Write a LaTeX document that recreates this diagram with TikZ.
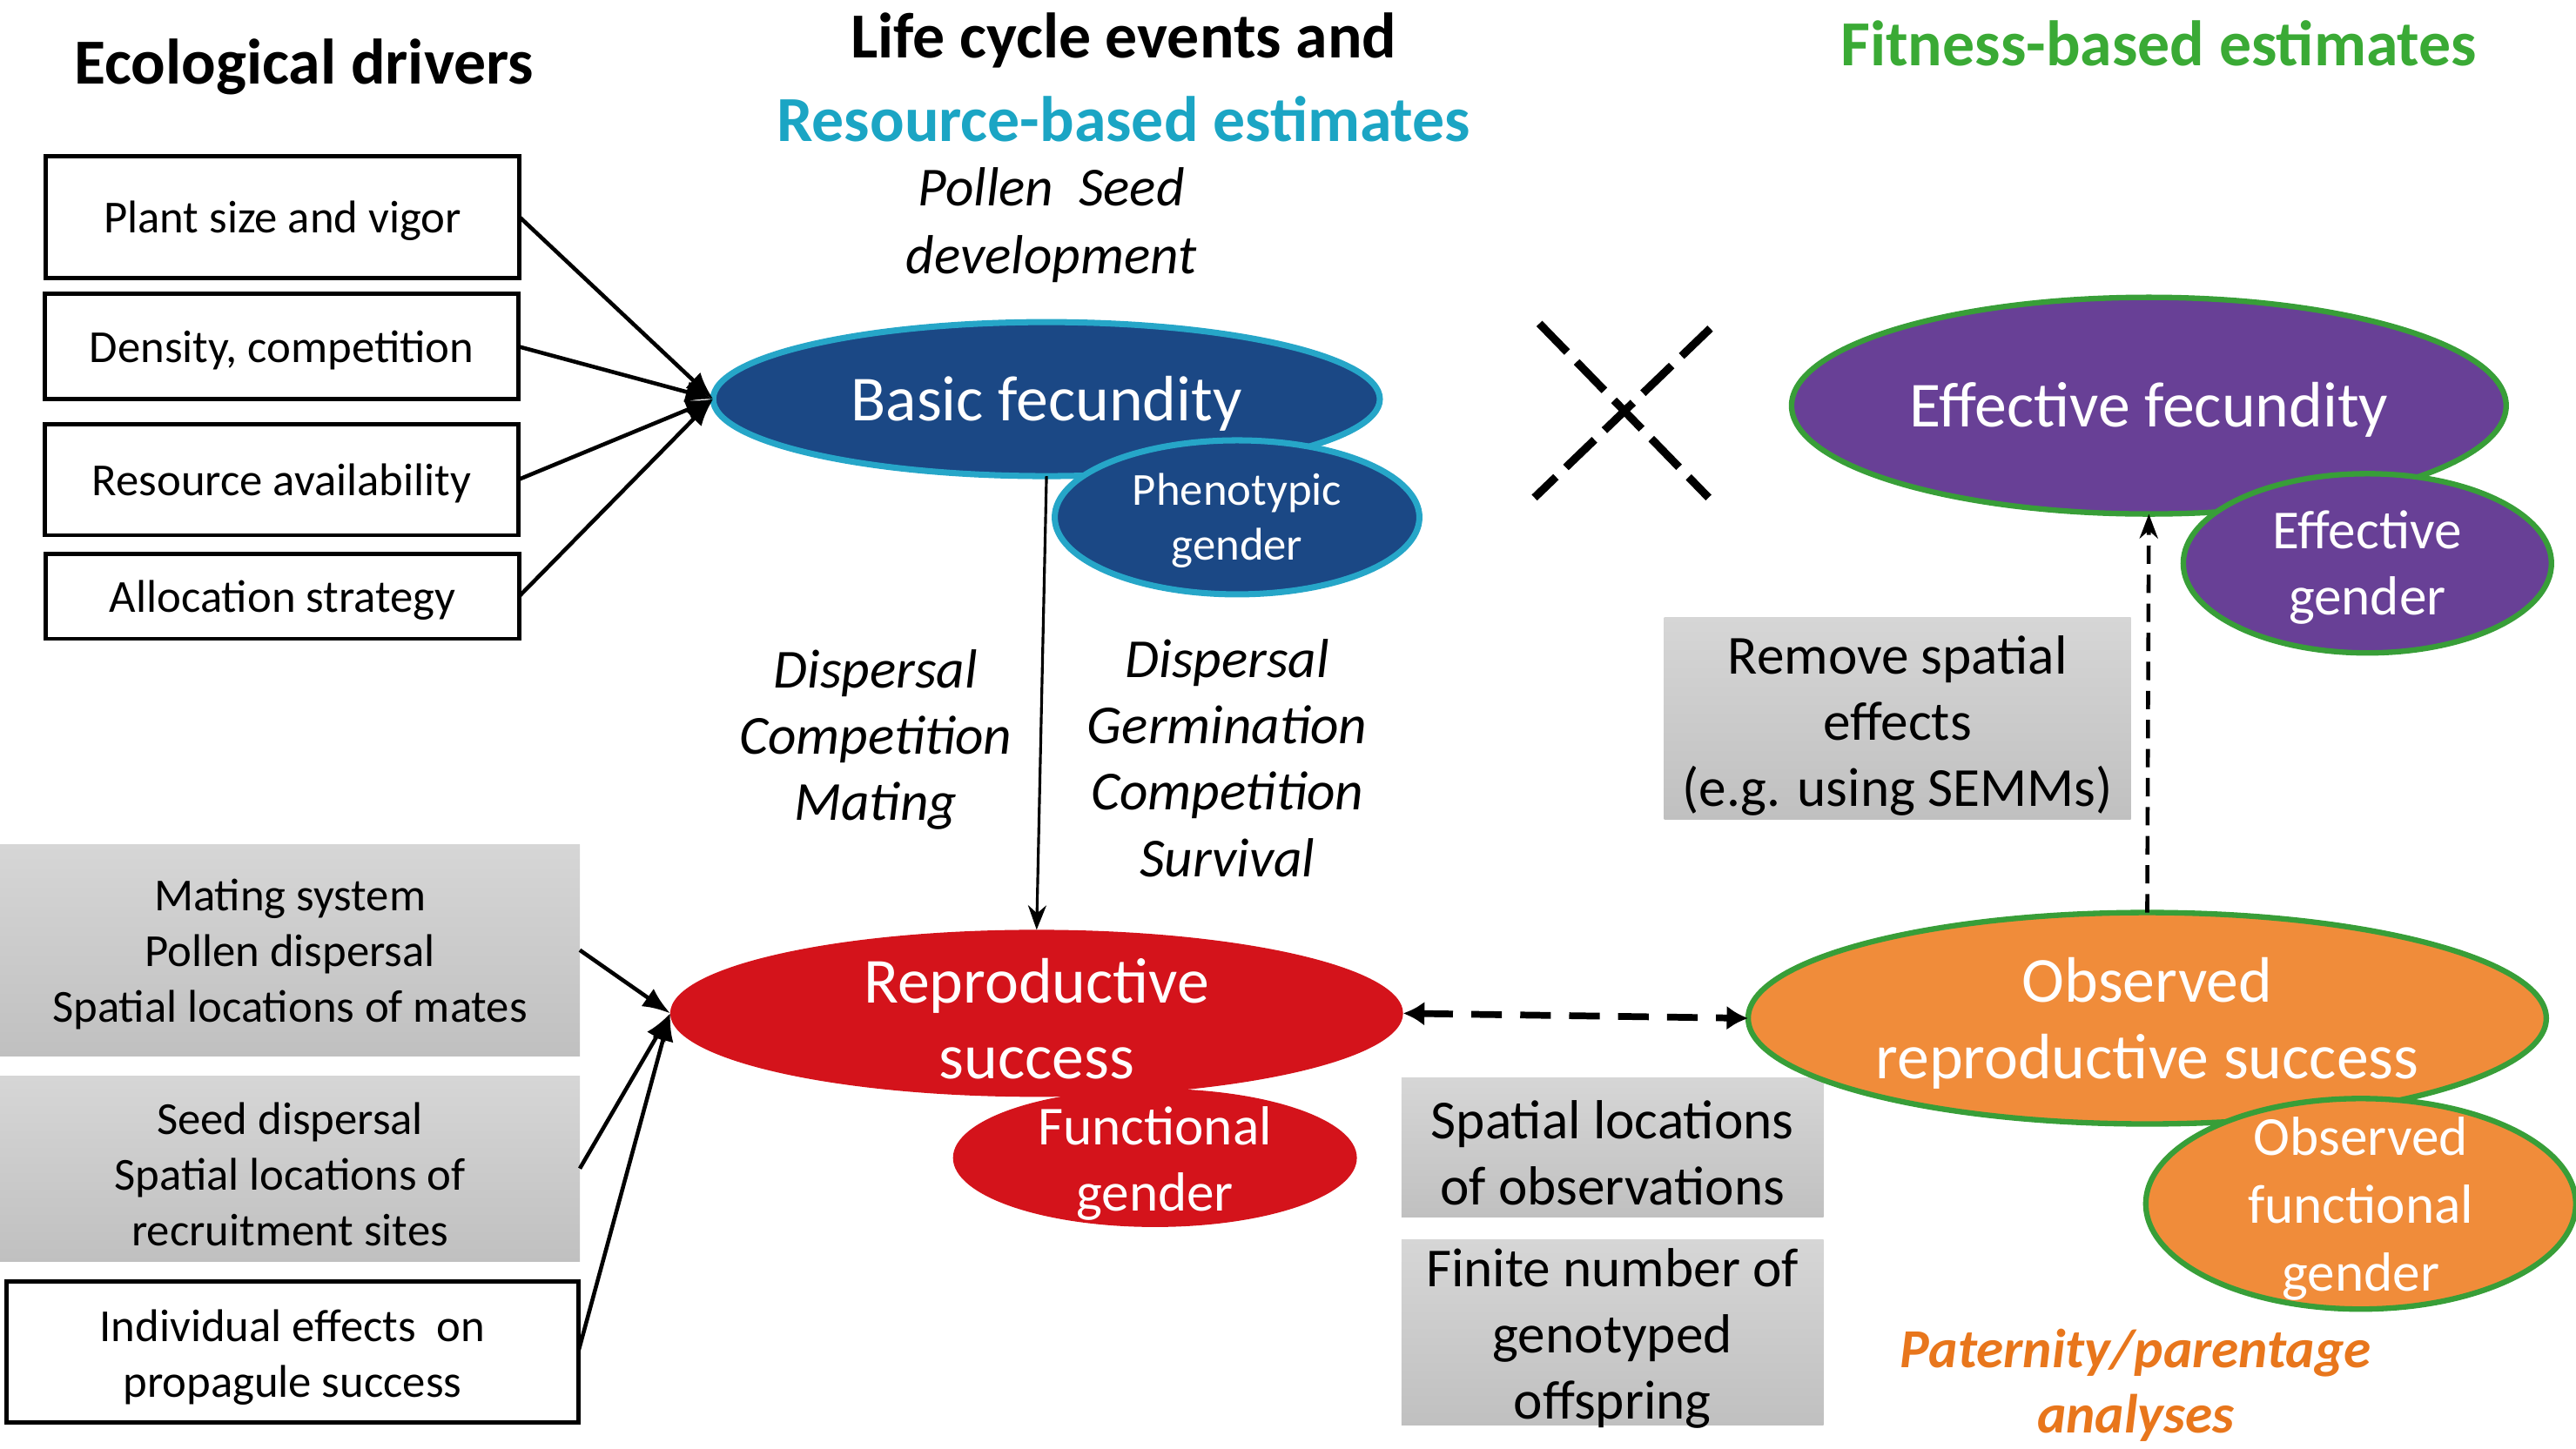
\documentclass[tikz,border=0pt]{standalone}
\usepackage{fontspec}
\setmainfont{Carlito}
\usetikzlibrary{shapes.geometric,arrows.meta}
\definecolor{bfblue}{RGB}{27,72,133}
\definecolor{bfcyan}{RGB}{38,166,200}
\definecolor{ttlcyan}{RGB}{27,165,196}
\definecolor{rsred}{RGB}{212,19,27}
\definecolor{efpurple}{RGB}{104,64,150}
\definecolor{efgreen}{RGB}{56,158,56}
\definecolor{ttlgreen}{RGB}{58,170,53}
\definecolor{obsorange}{RGB}{240,140,58}
\definecolor{patorange}{RGB}{232,118,28}
\definecolor{graytop}{RGB}{214,214,214}
\definecolor{graybot}{RGB}{192,192,192}
\newcommand\fsXL{\fontsize{21}{24.7}\selectfont}
\newcommand\fsL{\fontsize{18}{21.7}\selectfont}
\newcommand\fsM{\fontsize{15}{18.2}\selectfont}
\newcommand\fsMa{\fontsize{15}{17.7}\selectfont}
\begin{document}
\begin{tikzpicture}[x=0.018871cm,y=-0.018871cm,
  every node/.style={inner sep=0pt, outer sep=0pt},
  txt/.style={align=center, yshift=-1.35pt},
  wtxt/.style={align=center, text=white, yshift=-1.35pt},
  bfell/.style={ellipse, draw=bfcyan, line width=2pt, fill=bfblue},
  rsell/.style={ellipse, fill=rsred},
  efell/.style={ellipse, draw=efgreen, line width=1.8pt, fill=efpurple},
  obsell/.style={ellipse, draw=efgreen, line width=1.8pt, fill=obsorange},
  wbox/.style={draw=black, line width=1.4pt, fill=white, minimum width=5.44cm},
  gbox/.style={top color=graytop, bottom color=graybot},
  arr/.style={line width=1.3pt, -{Latex[length=9pt,width=7pt]}},
  thinarr/.style={line width=0.9pt, -{Stealth[length=8pt,width=6pt]}},
  dblarr/.style={line width=2.2pt, dash pattern=on 10pt off 6pt, {Latex[length=7pt,width=8pt]}-{Latex[length=7pt,width=8pt]}},
  uparr/.style={line width=1.3pt, dash pattern=on 6pt off 3.5pt, -{Stealth[length=8pt,width=6pt]}},
  xline/.style={line width=2.6pt, dash pattern=on 13pt off 4.5pt}
]
\useasboundingbox (0,0) rectangle (1568,882);

% titles
\node[txt, font=\fsXL\bfseries] (t1) at (185,38) {Ecological drivers};
\node[txt, font=\fsXL\bfseries] (t2) at (684,22) {Life cycle events and};
\node[txt, text=ttlcyan, font=\fsXL\bfseries] (t3) at (684,70) {Resource-based estimates};
\node[txt, text=ttlgreen, font=\fsXL\bfseries] (t4) at (1314,24) {Fitness-based estimates};
\node[txt, font=\fontsize{18}{22}\selectfont\itshape] (t5) at (640,134.5) {Pollen\ \ Seed\\ development};

% left boxes
\node[wbox, minimum height=1.40cm] (b1) at (172,132) {};
\node[txt, font=\fsM] at (b1) {Plant size and vigor};
\node[wbox, minimum height=1.21cm] (b2) at (171.5,211) {};
\node[txt, font=\fsM] at (b2) {Density, competition};
\node[wbox, minimum height=1.28cm] (b3) at (171.5,292) {};
\node[txt, font=\fsM] at (b3) {Resource availability};
\node[wbox, minimum height=0.98cm] (b4) at (172,363) {};
\node[txt, font=\fsM] at (b4) {Allocation strategy};

\node[gbox, minimum width=6.66cm, minimum height=2.43cm] (b5) at (176.5,578.5) {};
\node[txt, font=\fsM] at (b5) {Mating system\\ Pollen dispersal\\ Spatial locations of mates};
\node[gbox, minimum width=6.66cm, minimum height=2.13cm] (b6) at (176.5,711.5) {};
\node[txt, font=\fsM] at (176.5,712.5) {Seed dispersal\\ Spatial locations of\\ recruitment sites};
\node[wbox, minimum width=6.57cm, minimum height=1.62cm] (b7) at (178,823) {};
\node[txt, font=\fsM] at (178,824) {Individual effects~ on\\ propagule success};

% middle gray boxes
\node[gbox, minimum width=4.85cm, minimum height=1.60cm] (b8) at (981.5,698.5) {};
\node[txt, font=\fsL] at (981.5,699.5) {Spatial locations\\ of observations};
\node[gbox, minimum width=4.85cm, minimum height=2.13cm] (b9) at (981.5,811.5) {};
\node[txt, font=\fsL] at (981.5,812.5) {Finite number of\\ genotyped\\ offspring};
\node[gbox, minimum width=5.36cm, minimum height=2.32cm] (b10) at (1155,437.5) {};
\node[txt, font=\fsL] at (1155,439.5) {Remove spatial\\ effects\\ (e.g. using SEMMs)};

% ellipses
\node[bfell, minimum width=7.66cm, minimum height=1.77cm] (bf) at (637,243) {};
\node[wtxt, font=\fsXL] at (bf) {Basic fecundity};
\node[bfell, minimum width=4.19cm, minimum height=1.77cm] (pg) at (753,315) {};
\node[wtxt, font=\fsMa] at (753,314.5) {Phenotypic\\ gender};

\node[rsell, minimum width=8.42cm, minimum height=1.92cm] (rs) at (631,617) {};
\node[rsell, minimum width=4.64cm, minimum height=1.59cm] (fg) at (703,705) {};
\node[wtxt, font=\fsXL] at (631,618) {Reproductive\\ success};
\node[wtxt, font=\fontsize{18}{21.5}\selectfont] at (703,706) {Functional\\ gender};

\node[efell, minimum width=8.21cm, minimum height=2.49cm] (ef) at (1308,247) {};
\node[wtxt, font=\fsXL] at (ef) {Effective fecundity};
\node[efell, minimum width=4.23cm, minimum height=2.06cm] (eg) at (1441,343) {};
\node[wtxt, font=\fontsize{18}{21.5}\selectfont] at (1441,343) {Effective\\ gender};

\node[obsell, minimum width=9.17cm, minimum height=2.43cm] (obs) at (1307,620) {};
\node[wtxt, font=\fontsize{21}{25}\selectfont] at (1307,620.5) {Observed\\ reproductive success};
\node[obsell, minimum width=4.94cm, minimum height=2.42cm] (ofg) at (1437,733) {};
\node[wtxt, font=\fontsize{18}{22.2}\selectfont] at (1437,733.5) {Observed\\ functional\\ gender};

% italic labels
\node[txt, font=\fsL\itshape] (l1) at (533,448) {Dispersal\\ Competition\\ Mating};
\node[txt, font=\fsL\itshape] (l2) at (747,459) {Dispersal\\ Germination\\ Competition\\ Survival};
\node[txt, text=patorange, font=\fontsize{18}{21.5}\selectfont\bfseries\itshape] (l3) at (1300,841) {Paternity/parentage\\ analyses};

% connectors
\foreach \b in {b1,b2,b3,b4} \draw[arr] (\b.east) -- (bf.west);
\foreach \b in {b5,b6,b7} \draw[arr] (\b.east) -- (rs.west);
\draw[thinarr] (bf.south) -- (rs.north);
\draw[dblarr] (rs.east) -- (obs.west);
\draw[uparr] (obs.north) -- (ef.south);

% dashed cross
\coordinate (xa1) at (937,197);
\coordinate (xa2) at (1040,303);
\coordinate (xb1) at (1041,200);
\coordinate (xb2) at (934,303);
\draw[xline] (xa1) -- (xa2);
\draw[xline] (xb1) -- (xb2);
\end{tikzpicture}
\end{document}
